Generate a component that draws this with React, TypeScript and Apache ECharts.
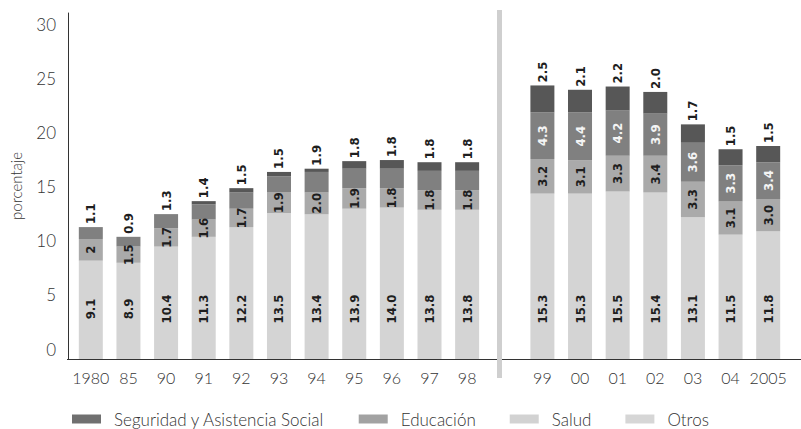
import React, { useEffect, useRef } from 'react';
import * as echarts from 'echarts';

// Years on the horizontal axis; the empty slot separates the two series periods.
const categories = ['1980', '85', '90', '91', '92', '93', '94', '95', '96', '97', '98', '', '99', '00', '01', '02', '03', '04', '2005'];

// Values as printed on the bars (percentage points), bottom segment first.
const otros = ['9.1', '8.9', '10.4', '11.3', '12.2', '13.5', '13.4', '13.9', '14.0', '13.8', '13.8', null, '15.3', '15.3', '15.5', '15.4', '13.1', '11.5', '11.8'];
const salud = ['2', '1.5', '1.7', '1.6', '1.7', '1.9', '2.0', '1.9', '1.8', '1.8', '1.8', null, '3.2', '3.1', '3.3', '3.4', '3.3', '3.1', '3.0'];
const educacion = ['1.1', '0.9', '1.3', '1.4', '1.5', '1.5', '1.9', '1.8', '1.8', '1.8', '1.8', null, '4.3', '4.4', '4.2', '3.9', '3.6', '3.3', '3.4'];
const seguridad = ['0', '0', '0', '0.3', '0.4', '0.4', '0.3', '0.7', '0.8', '0.8', '0.8', null, '2.5', '2.1', '2.2', '2.0', '1.7', '1.5', '1.5'];

const yTicks = [0, 5, 10, 15, 20, 25, 30];

const SERIES_NAMES = {
  seguridad: 'Seguridad y Asistencia Social',
  educacion: 'Educación',
  salud: 'Salud',
  otros: 'Otros',
};

const AXIS_FONT = 'Lato, "Open Sans", sans-serif';
const BAR_FONT = '"Liberation Sans Narrow", "DejaVu Sans Condensed", "Noto Sans", sans-serif';

const GRID_TOP = 13;
const GRID_BOTTOM = 70;
const CHART_H = 429;
const Y_MAX = 32;
const PX_PER_UNIT = (CHART_H - GRID_TOP - GRID_BOTTOM) / Y_MAX;

const GAP_INDEX = categories.indexOf('');

const toNum = (arr: (string | null)[]) => arr.map((v) => (v === null ? null : Number(v)));

const barLabelBase = {
  show: true,
  rotate: 90,
  fontFamily: BAR_FONT,
  fontWeight: 'bold' as const,
  fontSize: 13,
  color: '#1e1e1e',
};

export default function App() {
  const ref = useRef<HTMLDivElement>(null);

  useEffect(() => {
    if (!ref.current) return;
    const chart = echarts.init(ref.current, undefined, { renderer: 'svg' });

    const otrosData = toNum(otros).map((v, i) =>
      v === null
        ? null
        : {
            value: v,
            label: {
              ...barLabelBase,
              position: 'insideBottom',
              distance: 50,
              align: 'center',
              verticalAlign: 'middle',
              formatter: () => otros[i] as string,
            },
          }
    );

    const saludData = toNum(salud).map((v, i) =>
      v === null
        ? null
        : {
            value: v,
            label: {
              ...barLabelBase,
              position: 'inside',
              align: 'center',
              verticalAlign: 'middle',
              formatter: () => salud[i] as string,
            },
          }
    );

    const segNums = toNum(seguridad);

    const educacionData = toNum(educacion).map((v, i) => {
      if (v === null) return null;
      const early = i < GAP_INDEX;
      return {
        value: v,
        label: early
          ? {
              ...barLabelBase,
              position: 'top',
              // sits above the thin segment stacked on top of it
              distance: 3 + (segNums[i] || 0) * PX_PER_UNIT,
              align: 'left',
              verticalAlign: 'middle',
              formatter: () => educacion[i] as string,
            }
          : {
              ...barLabelBase,
              position: 'inside',
              align: 'center',
              verticalAlign: 'middle',
              color: '#f4f4f4',
              formatter: () => educacion[i] as string,
            },
      };
    });

    const seguridadData = segNums.map((v, i) => {
      if (v === null) return null;
      const early = i < GAP_INDEX;
      return {
        value: v,
        label: early
          ? { show: false }
          : {
              ...barLabelBase,
              position: 'top',
              distance: 3,
              align: 'left',
              verticalAlign: 'middle',
              formatter: () => seguridad[i] as string,
            },
      };
    });

    const common = {
      type: 'bar' as const,
      stack: 'gasto',
      barWidth: 24,
      emphasis: { disabled: true },
    };

    chart.setOption({
      animation: false,
      backgroundColor: '#ffffff',
      grid: { left: 71, right: 14, top: GRID_TOP, bottom: GRID_BOTTOM, containLabel: false },
      legend: {
        left: 72,
        top: 410,
        padding: 0,
        icon: 'rect',
        itemWidth: 29,
        itemHeight: 9,
        itemGap: 34,
        selectedMode: false,
        textStyle: {
          fontFamily: AXIS_FONT,
          fontSize: 17,
          fontWeight: 300,
          lineHeight: 18,
          color: '#333333',
          padding: [0, 0, 0, 8],
        },
        data: [
          { name: SERIES_NAMES.seguridad, itemStyle: { color: '#707070' } },
          { name: SERIES_NAMES.educacion, itemStyle: { color: '#a2a2a2' } },
          { name: SERIES_NAMES.salud, itemStyle: { color: '#d2d2d2' } },
          { name: SERIES_NAMES.otros, itemStyle: { color: '#d6d6d6' } },
        ],
      },
      xAxis: {
        type: 'category',
        data: categories,
        axisLine: { show: false },
        axisTick: { show: false },
        axisLabel: {
          interval: 0,
          margin: 10,
          fontFamily: AXIS_FONT,
          fontSize: 16,
          fontWeight: 300,
          color: '#333333',
        },
      },
      yAxis: {
        type: 'value',
        min: 0,
        max: Y_MAX,
        interval: 5,
        offset: 4,
        name: 'porcentaje',
        nameLocation: 'middle',
        nameRotate: 90,
        nameGap: 45,
        nameTextStyle: { fontFamily: AXIS_FONT, fontSize: 15, fontWeight: 300, color: '#333333' },
        axisLine: { show: true, lineStyle: { color: '#333', width: 1 } },
        axisTick: { show: false },
        splitLine: { show: false },
        axisLabel: {
          margin: 12,
          fontFamily: AXIS_FONT,
          fontSize: 17,
          fontWeight: 300,
          color: '#333333',
          verticalAlign: 'bottom',
          lineHeight: 20,
          formatter: (v: number) => (yTicks.includes(v) ? String(v) : ''),
        },
      },
      graphic: [
        {
          type: 'line',
          shape: { x1: 67, y1: CHART_H - GRID_BOTTOM + 0.5, x2: 801, y2: CHART_H - GRID_BOTTOM + 0.5 },
          style: { stroke: '#333', lineWidth: 1 },
          z: 10,
        },
        {
          type: 'rect',
          shape: { x: 497, y: 10, width: 5, height: 368 },
          style: { fill: '#cfcfcf' },
          z: 10,
        },
      ],
      series: [
        { ...common, name: SERIES_NAMES.otros, itemStyle: { color: '#d4d4d4' }, data: otrosData },
        { ...common, name: SERIES_NAMES.salud, itemStyle: { color: '#aaaaaa' }, data: saludData },
        { ...common, name: SERIES_NAMES.educacion, itemStyle: { color: '#808080' }, data: educacionData },
        { ...common, name: SERIES_NAMES.seguridad, itemStyle: { color: '#575757' }, data: seguridadData },
      ],
    });

    return () => chart.dispose();
  }, []);

  return (
    <div
      ref={ref}
      style={{ position: 'fixed', left: 0, top: 0, width: 801, height: 429, background: '#fff' }}
    />
  );
}
